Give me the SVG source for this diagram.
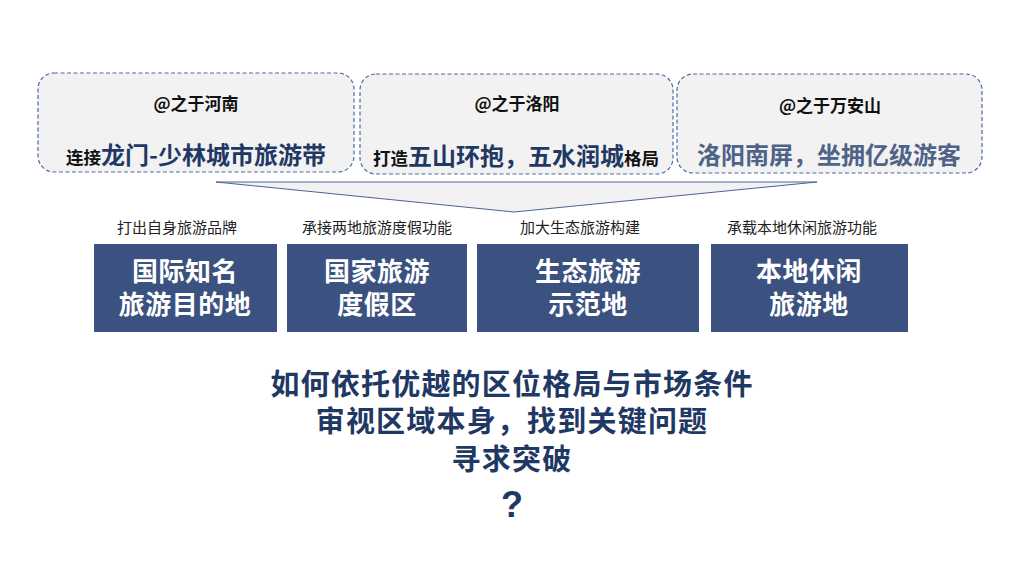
<svg xmlns="http://www.w3.org/2000/svg" width="1024" height="576" viewBox="0 0 1024 576">
<style>
.card{fill:#f2f2f2;stroke:#4a6ca6;stroke-width:1.2;stroke-dasharray:4 2.5}
.t{font-family:"Noto Sans CJK SC","Noto Sans",sans-serif;font-weight:bold}
.h{font-size:17px;fill:#111}
.blk{font-size:17.5px;fill:#111}
.nav{font-size:24px;fill:#1f3864}
.sub{font-family:"Noto Sans CJK SC","Noto Sans",sans-serif;font-size:15px;fill:#222}
.box{fill:#3b5280}
.bt{font-size:26px;fill:#fff;letter-spacing:0.5px}
.q{font-size:29px;fill:#1f3864;letter-spacing:1.2px}
</style>
<rect width="1024" height="576" fill="#fff"/>
<g id="card1">
<rect class="card" x="38" y="73" width="316" height="99" rx="16"/>
<text class="t h" x="196" y="110" text-anchor="middle">@之于河南</text>
<text class="t" x="196" y="164" text-anchor="middle"><tspan class="blk">连接</tspan><tspan class="nav">龙门-少林城市旅游带</tspan></text>
</g>
<g id="card2">
<rect class="card" x="360" y="74" width="313" height="100" rx="16"/>
<text class="t h" x="517" y="110" text-anchor="middle">@之于洛阳</text>
<text class="t" x="516" y="165" text-anchor="middle"><tspan class="blk">打造</tspan><tspan class="nav">五山环抱，五水润城</tspan><tspan class="blk">格局</tspan></text>
</g>
<g id="card3">
<rect class="card" x="677" y="74" width="305" height="99" rx="16"/>
<text class="t h" x="830" y="112" text-anchor="middle">@之于万安山</text>
<text class="t" x="829" y="164" text-anchor="middle" font-size="24" fill="#4f6288">洛阳南屏，坐拥亿级游客</text>
</g>
<g id="connectors">
<polygon points="216,182 817,182 514,212" fill="#f2f2f2" stroke="#4a6491" stroke-width="1"/>
</g>
<g id="node1">
<text class="sub" x="177" y="233" text-anchor="middle">打出自身旅游品牌</text>
<rect class="box" x="94" y="244" width="183" height="88"/>
<text class="t bt" x="185" y="281" text-anchor="middle">国际知名</text>
<text class="t bt" x="185" y="314" text-anchor="middle">旅游目的地</text>
</g>
<g id="node2">
<text class="sub" x="377" y="233" text-anchor="middle">承接两地旅游度假功能</text>
<rect class="box" x="287" y="244" width="180" height="88"/>
<text class="t bt" x="377" y="281" text-anchor="middle">国家旅游</text>
<text class="t bt" x="377" y="314" text-anchor="middle">度假区</text>
</g>
<g id="node3">
<text class="sub" x="580" y="233" text-anchor="middle">加大生态旅游构建</text>
<rect class="box" x="477" y="244" width="222" height="88"/>
<text class="t bt" x="588" y="281" text-anchor="middle">生态旅游</text>
<text class="t bt" x="588" y="314" text-anchor="middle">示范地</text>
</g>
<g id="node4">
<text class="sub" x="802" y="233" text-anchor="middle">承载本地休闲旅游功能</text>
<rect class="box" x="711" y="244" width="197" height="88"/>
<text class="t bt" x="809" y="281" text-anchor="middle">本地休闲</text>
<text class="t bt" x="809" y="314" text-anchor="middle">旅游地</text>
</g>
<g id="question">
<text class="t q" x="512" y="395" text-anchor="middle">如何依托优越的区位格局与市场条件</text>
<text class="t q" x="512" y="432" text-anchor="middle">审视区域本身，找到关键问题</text>
<text class="t q" x="512" y="470" text-anchor="middle" font-size="32">寻求突破</text>
<text x="512" y="517" text-anchor="middle" font-family="'Liberation Sans',Arial,sans-serif" font-weight="bold" font-size="36" fill="#1f3864">?</text>
</g>
</svg>
